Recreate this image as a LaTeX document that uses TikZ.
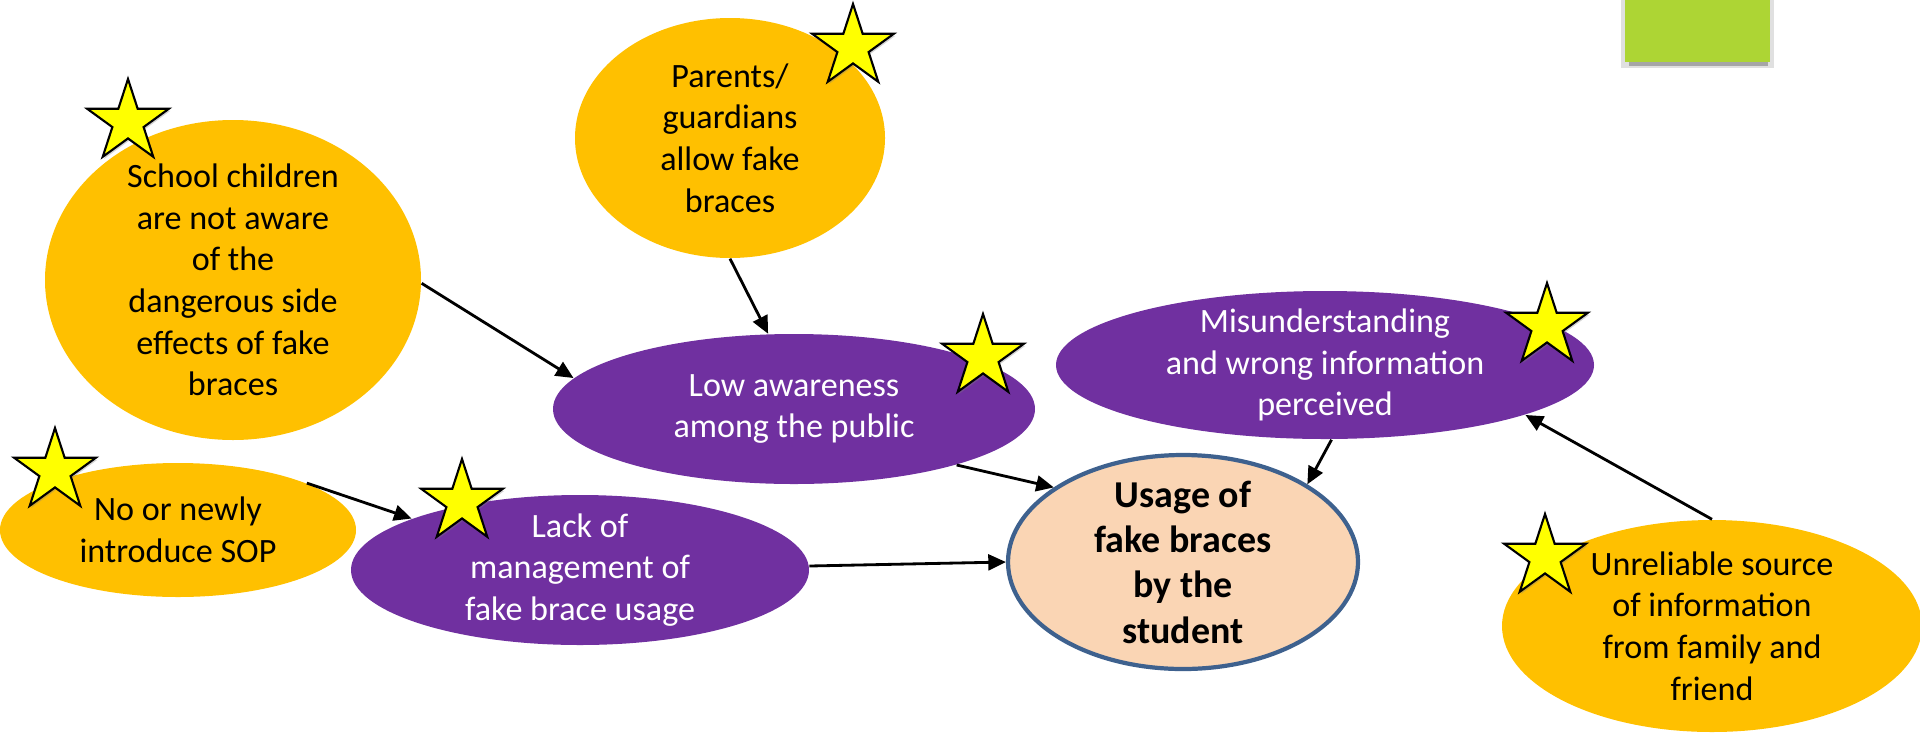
\documentclass[tikz,border=0pt]{standalone}
\usepackage{fontspec}
\setmainfont{Carlito}
\usetikzlibrary{shapes.geometric,arrows.meta,shadows}
\definecolor{causefill}{RGB}{255,192,0}
\definecolor{factorfill}{RGB}{112,48,160}
\definecolor{peach}{RGB}{250,213,180}
\definecolor{rim}{RGB}{62,97,142}
\definecolor{lime}{RGB}{173,213,52}
\definecolor{starfill}{RGB}{255,255,0}

\begin{document}
\begin{tikzpicture}[font=\fontsize{9.7}{11.85}\selectfont,
    cause/.style={ellipse, fill=causefill, align=center, inner sep=-0.5cm},
    factor/.style={ellipse, fill=factorfill, text=white, align=center, inner sep=-0.5cm},
    goal/.style={ellipse, fill=peach, draw=rim, line width=1.2pt, align=center, inner sep=-0.5cm, font=\fontsize{10.8}{12.9}\selectfont\bfseries},
    starmark/.style={star, star points=5, star point ratio=2.618, minimum size=0.86cm, inner sep=0pt,
        draw=black, fill=starfill, line width=0.6pt,
        drop shadow={shadow xshift=0.4pt, shadow yshift=-0.6pt, opacity=0.35}},
    link/.style={-{Triangle[length=5pt,width=4.5pt]}, line width=0.8pt}]
    \useasboundingbox (0,0) rectangle (19.2,7.35);

    % green box, top right
    \fill[black!12] (16.21,6.67) rectangle (17.74,7.35);
    \fill[black!35] (16.29,6.69) rectangle (17.68,6.74);
    \fill[lime] (16.25,6.73) rectangle (17.70,7.35);

    \node[cause, minimum width=3.76cm, minimum height=3.20cm] (school) at (2.33,4.55)
        {School children\\are not aware\\of the\\dangerous side\\effects of fake\\braces};
    \node[cause, minimum width=3.10cm, minimum height=2.40cm] (parents) at (7.30,5.97)
        {Parents/\\guardians\\allow fake\\braces};
    \node[factor, minimum width=4.82cm, minimum height=1.50cm] (lowaw) at (7.94,3.26)
        {Low awareness\\among the public};
    \node[factor, minimum width=5.38cm, minimum height=1.48cm] (misinfo) at (13.25,3.70)
        {Misunderstanding\\and wrong information\\perceived};
    \node[cause, minimum width=3.56cm, minimum height=1.34cm] (nosop) at (1.78,2.05)
        {No or newly\\introduce SOP};
    \node[factor, minimum width=4.58cm, minimum height=1.50cm] (lackmgmt) at (5.80,1.65)
        {Lack of\\management of\\fake brace usage};
    \node[goal, minimum width=3.50cm, minimum height=2.14cm] (usage) at (11.83,1.73)
        {Usage of\\fake braces\\by the\\student};
    \node[cause, minimum width=4.20cm, minimum height=2.12cm] (unreliable) at (17.12,1.09)
        {Unreliable source\\of information\\from family and\\friend};

    \draw[link] (school.-1) -- (lowaw.172);
    \draw[link] (parents.south) -- (lowaw.109);
    \draw[link] (lowaw.-19) -- (usage.150);
    \draw[link] (nosop.20) -- (lackmgmt.163);
    \draw[link] (lackmgmt.1) -- (usage.west);
    \draw[link] (misinfo.-85) -- (usage.32);
    \draw[link] (unreliable.north) -- (misinfo.-14);

    \node[starmark] (s-school) at (1.28,6.13) {};
    \node[starmark] (s-parents) at (8.53,6.88) {};
    \node[starmark] (s-lowaw) at (9.83,3.78) {};
    \node[starmark] (s-misinfo) at (15.47,4.09) {};
    \node[starmark] (s-nosop) at (0.55,2.64) {};
    \node[starmark] (s-lackmgmt) at (4.62,2.33) {};
    \node[starmark] (s-unreliable) at (15.45,1.78) {};
\end{tikzpicture}
\end{document}
